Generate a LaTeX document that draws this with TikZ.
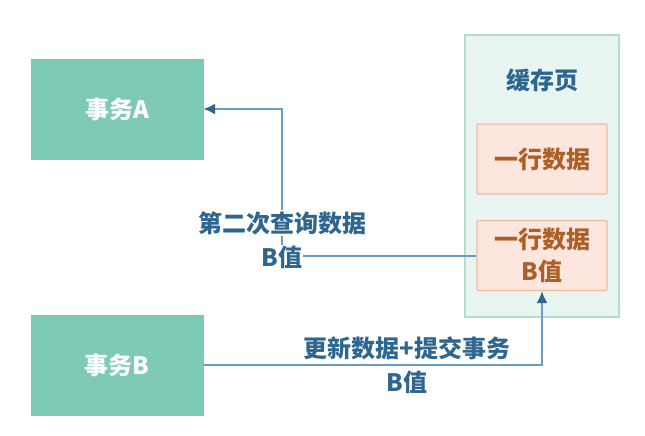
\documentclass[tikz,border=0pt]{standalone}
\usepackage{fontspec}
\setmainfont{Noto Sans CJK SC}
\usetikzlibrary{positioning,arrows.meta}

\definecolor{taskfill}{HTML}{7FCAB4}
\definecolor{pagefill}{HTML}{E8F5F0}
\definecolor{pageline}{HTML}{B3DECF}
\definecolor{rowfill}{HTML}{FCE6DD}
\definecolor{rowline}{HTML}{F1BBA3}
\definecolor{rowtext}{HTML}{AE5F27}
\definecolor{flowline}{HTML}{6A9CC5}
\definecolor{flowtext}{HTML}{2E6690}

\tikzset{
    task/.style={fill=taskfill, draw=taskfill, minimum width=172pt, minimum height=100pt,
        text=white, font=\fontsize{24}{28}\selectfont\bfseries},
    pagebox/.style={fill=pagefill, draw=pageline, line width=1.2pt,
        minimum width=154pt, minimum height=282pt},
    rowbox/.style={fill=rowfill, draw=rowline, line width=1.2pt, rounded corners=1pt,
        minimum width=130pt, minimum height=70pt, align=center, text=rowtext,
        font=\fontsize{24}{32}\selectfont\bfseries},
    flow/.style={draw=flowline, line width=2pt, -{Latex[length=12pt,width=11pt,color=flowtext]}},
    flowlabel/.style={fill=white, inner sep=1pt, text=flowtext,
        font=\fontsize{24}{28}\selectfont\bfseries}
}

\begin{document}
\begin{tikzpicture}[x=1pt,y=-1pt]

    \useasboundingbox (0,0) rectangle (645,436);

    % transactions
    \node[task] (taskA) at (117,109) {事务A};
    \node[task] (taskB) at (117,365) {事务B};

    % cache page with its rows
    \node[pagebox] (page) at (542,176) {};
    \node[text=flowtext, font=\fontsize{24}{28}\selectfont\bfseries] (pageTitle) at (542,80) {缓存页};
    \node[rowbox] (rowOne) at (542,159) {一行数据};
    \node[rowbox] (rowTwo) at (542,255.5) {一行数据\\B值};

    % B writes the row
    \coordinate (upB) at (rowTwo.south |- taskB.east);
    \draw[flow] (taskB.east) -- (upB) -- (rowTwo.south);
    \node[flowlabel] (writeTop) at (407,348) {更新数据+提交事务};
    \node[flowlabel] (writeBot) at (407,382) {B值};

    % A reads the row again
    \coordinate (bendA) at (282,255.5);
    \draw[flow] (rowTwo.west) -- (bendA) -- (bendA |- taskA.east) -- (taskA.east);
    \node[flowlabel] (readTop) at (282,223) {第二次查询数据};
    \node[flowlabel] (readBot) at (282,257) {B值};

\end{tikzpicture}
\end{document}
